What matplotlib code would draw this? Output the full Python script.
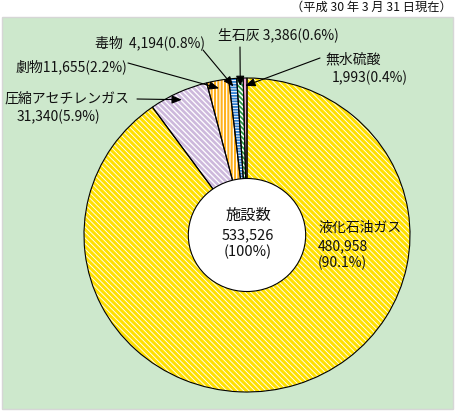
import matplotlib
matplotlib.use('Agg')
import matplotlib.pyplot as plt
from matplotlib.patches import Rectangle, Circle
import numpy as np

plt.rcParams['font.family'] = ['Noto Sans CJK JP', 'DejaVu Sans']
plt.rcParams['hatch.linewidth'] = 1.5

# ---- data ----
categories = ['無水硫酸', '生石灰', '毒物', '劇物', '圧縮アセチレンガス', '液化石油ガス']
values = [1993, 3386, 4194, 11655, 31340, 480958]
percents = ['0.4%', '0.6%', '0.8%', '2.2%', '5.9%', '90.1%']
total_value = 533526
total_label = '施設数'
total_pct = '100%'
date_note = '（平成 30 年 3 月 31 日現在）'

# ---- style ----
fills = ['#E8A6CE', 'white', 'white', 'white', 'white', 'white']
hatch_colors = ['#8E4E9E', '#2E9E48', '#2F7FCF', '#FFB21E', '#CDB9DC', '#FFE000']
hatches = ['|', '\\' * 7, '-' * 6, '|' * 5, '\\' * 6, '\\' * 6]
hatch_lws = [1.2, 1.3, 1.3, 1.5, 1.9, 2.2]

W, H = 455, 411
fig = plt.figure(figsize=(W / 100, H / 100), dpi=100)


def fx(px):
    return px / W


def fy(py):
    return 1 - py / H


fig.patches.append(Rectangle((fx(2), fy(409)), fx(453) - fx(2), fy(17) - fy(409),
                             transform=fig.transFigure, facecolor='#CDE8CC',
                             edgecolor='#D6D6D6', linewidth=1, zorder=-5))

ax = fig.add_axes([0, 0, 1, 1])
ax.patch.set_alpha(0)
ax.set_zorder(1)

cx, cy, rx, ry = 247, 235, 163, 157

wedges, _ = ax.pie(values, startangle=90, counterclock=True, colors=fills,
                   wedgeprops=dict(linewidth=0))
for w, hc, h, hl in zip(wedges, hatch_colors, hatches, hatch_lws):
    w.set_edgecolor(hc)
    w.set_hatch(h)
    w.set_linewidth(0)
    if hasattr(w, 'set_hatch_linewidth'):
        w.set_hatch_linewidth(hl)
    else:
        w._hatch_linewidth = hl
ax.pie(values, startangle=90, counterclock=True,
       wedgeprops=dict(fill=False, edgecolor='black', linewidth=0.8))
ax.add_patch(Circle((0, 0), 0.36, facecolor='white', edgecolor='black',
                    linewidth=0.8, zorder=5))
ax.set_xlim(-cx / rx, (W - cx) / rx)
ax.set_ylim((cy - H) / ry, cy / ry)
ax.set_aspect('auto')
ax.axis('off')

# mid angles of slices
vals = np.array(values, dtype=float)
cum = np.cumsum(vals)
mid = np.deg2rad(90 + 360 * (cum - vals / 2) / vals.sum())

fs = 10
lab = {c: (v, p) for c, v, p in zip(categories, values, percents)}


def txt(s, x, y, ha='left', size=fs):
    ax.text(fx(x), fy(y), s, ha=ha, va='center', fontsize=size, color='#111111',
            transform=fig.transFigure, zorder=8)


v, p = lab['毒物']
txt(f'毒物  {v:,}({p})', 95, 43)
v, p = lab['生石灰']
txt(f'生石灰 {v:,}({p})', 218, 35)
v, p = lab['無水硫酸']
txt('無水硫酸', 325, 59)
txt(f'{v:,}({p})', 332, 78)
v, p = lab['劇物']
txt(f'劇物{v:,}({p})', 16, 67)
v, p = lab['圧縮アセチレンガス']
txt('圧縮アセチレンガス', 4, 99)
txt(f'{v:,}({p})', 17, 117)
v, p = lab['液化石油ガス']
txt('液化石油ガス', 318, 228)
txt(f'{v:,}', 318, 246)
txt(f'({p})', 318, 263)

txt(total_label, 248, 215, ha='center', size=11)
txt(f'{total_value:,}', 248, 235, ha='center', size=10.5)
txt(f'({total_pct})', 248, 252, ha='center', size=10.5)

txt(date_note, 452, 7, ha='right', size=8.8)

# arrows: tail in pixels, tip on slice mid-angle
tails = {'無水硫酸': (320, 58), '生石灰': (240, 47), '毒物': (203, 50),
         '劇物': (128, 63), '圧縮アセチレンガス': (137, 99)}
for i, c in enumerate(categories):
    if c not in tails:
        continue
    tx, ty = tails[c]
    r = 0.95
    ax.annotate('', xy=(r * np.cos(mid[i]), r * np.sin(mid[i])), xycoords='data',
                xytext=(fx(tx), fy(ty)), textcoords='figure fraction',
                arrowprops=dict(arrowstyle='-|>,head_length=0.6,head_width=0.25',
                                color='black', lw=0.8, mutation_scale=10,
                                shrinkA=0, shrinkB=0), zorder=6)

fig.savefig('out.png', dpi=100)
